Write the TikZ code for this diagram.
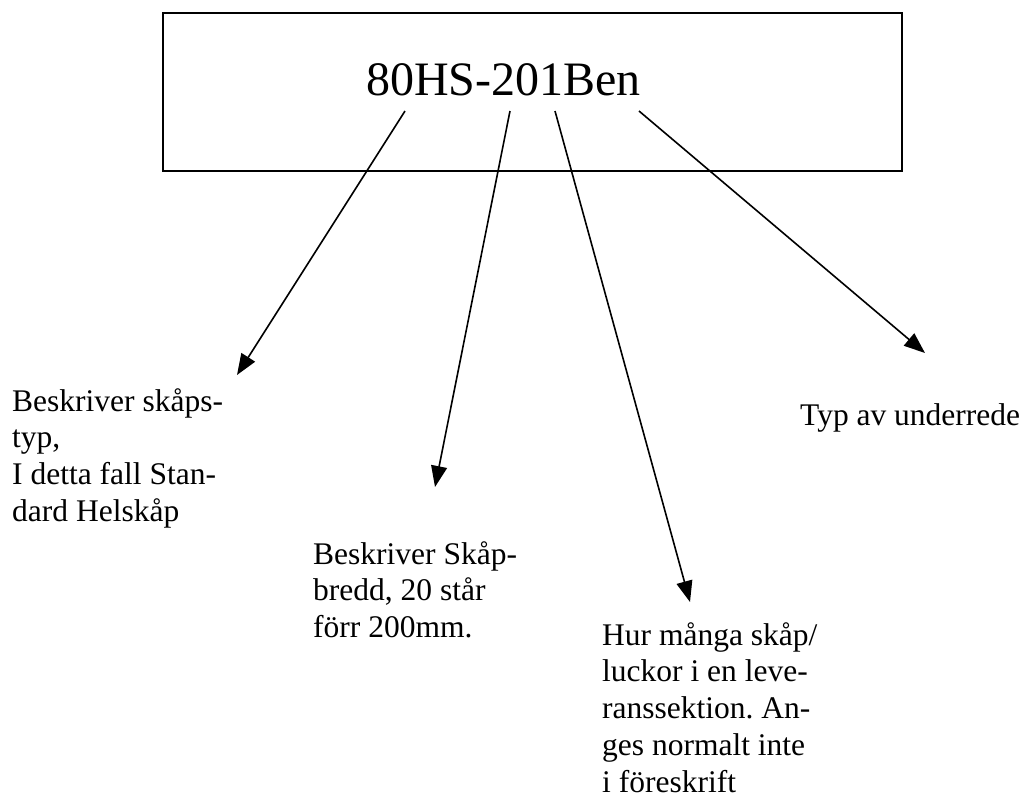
\documentclass[tikz,border=0pt]{standalone}
\usepackage{fontspec}
\setmainfont{Liberation Serif}
\usetikzlibrary{arrows.meta}
\frenchspacing
\tikzset{
  codebox/.style={draw=black, line width=1.8pt},
  lbl/.style={anchor=north west, inner sep=0pt, align=left, font=\fontsize{31.5}{36.7}\selectfont},
  pointer/.style={line width=1.6pt, -{Triangle[length=21pt,width=16pt]}}
}
\begin{document}
\begin{tikzpicture}[x=1pt,y=-1pt]
\useasboundingbox (0,0) rectangle (1033,801);
\draw[codebox] (163,13) rectangle (902,171);
\node[anchor=base west, inner sep=0pt, font=\fontsize{48}{55}\selectfont] (title) at (366,95) {80HS-201Ben};
\coordinate (s1) at (405,111);
\coordinate (s2) at (510,111);
\coordinate (s3) at (555,111);
\coordinate (s4) at (639,111);
\coordinate (t1) at (237,375);
\coordinate (t2) at (435,487);
\coordinate (t3) at (690,602);
\coordinate (t4) at (925,353);
\node[lbl] (l1) at (12,383) {\rule{0pt}{28pt}Beskriver skåps-\\typ,\\I detta fall Stan-\\dard Helskåp};
\node[lbl] (l2) at (313,536) {\rule{0pt}{28pt}Beskriver Skåp-\\bredd, 20 står\\förr 200mm.};
\node[lbl] (l3) at (602,617) {\rule{0pt}{28pt}Hur många skåp/\\luckor i en leve-\\ranssektion.\ An-\\ges normalt inte\\i föreskrift};
\node[lbl] (l4) at (800,397) {\rule{0pt}{28pt}Typ av underrede};
\draw[pointer] (s1) -- (t1);
\draw[pointer] (s2) -- (t2);
\draw[pointer] (s3) -- (t3);
\draw[pointer] (s4) -- (t4);
\end{tikzpicture}
\end{document}
